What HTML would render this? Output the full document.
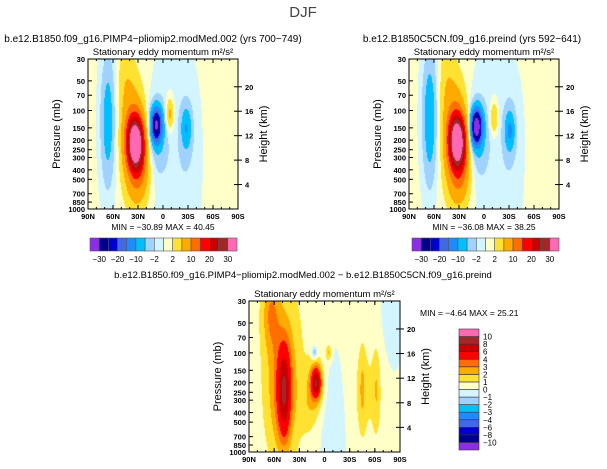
<!DOCTYPE html>
<html><head><meta charset="utf-8"><style>
body{margin:0;width:607px;height:469px;background:#fff;overflow:hidden;position:relative;font-family:"Liberation Sans",sans-serif}
canvas{position:absolute}
svg{position:absolute;left:0;top:0}
</style></head><body>
<canvas id="c1" width="150" height="150" style="left:88px;top:59px"></canvas>
<canvas id="c2" width="150" height="150" style="left:409px;top:59px"></canvas>
<canvas id="c3" width="151" height="151" style="left:249px;top:301px"></canvas>
<svg id="s" width="607" height="469"></svg>
<script>
// ---- data ----
const colors=["#8c2ee6","#00008c","#0000cd","#4169e1","#1e8cff","#00bfff","#a0d2ff","#d2f5ff","#ffffc8","#ffe132","#ffaa00","#ff6e00","#ff0000","#c80000","#a02828","#ff69b4"];
const levelsTop=[-30,-25,-20,-15,-10,-5,-2,0,2,5,10,15,20,25,30];
const levelsDiff=[-10,-8,-6,-4,-3,-2,-1,0,1,2,3,4,6,8,10];
const pTicks=[30,50,70,100,150,200,250,300,400,500,700,850,1000];
const kmTicks=[4,8,12,16,20];
const latTicks=["90N","60N","30N","0","30S","60S","90S"];
// blobs: lat, pressure(mb), amplitude, lat width (deg), log10p width
const leftLat=[33,36,30,66,8,6,-8,-28,-28,-12,45,28];
const leftP=[210,170,500,130,140,180,110,150,170,500,50,350];
const leftAmp=[34,8,5,-8,-28,-5,7,-7,-3,-1.4,2.5,4];
const leftSx=[7,10,10,6,4.5,8,3.5,4,7,22,7,8];
const leftSy=[0.18,0.38,0.25,0.45,0.12,0.25,0.12,0.13,0.3,1.0,0.3,0.2];
const rightLat=[32,35,30,65,9,7,-12,-31,-31,-12,45,28];
const rightP=[200,170,500,120,145,180,120,160,170,500,50,350];
const rightAmp=[32,9,5,-9,-34,-6,6,-8,-3,-1.4,2.5,4];
const rightSx=[7,10,10,6,4.5,8,3.5,4,7,22,7,8];
const rightSy=[0.18,0.38,0.25,0.45,0.12,0.25,0.12,0.13,0.3,1.0,0.3,0.2];
const diffLat=[48,50,64,50,10,10,12,-5,-45,-62,-50,-10,-80,18];
const diffP=[250,220,40,120,200,200,100,100,230,230,250,500,50,350];
const diffAmp=[5,2.5,2,1.2,6,2,-2.5,2,1.2,1.2,1,-0.8,-0.6,1];
const diffSx=[5,11,7,22,4,7,2.5,2.5,3,3,15,12,10,8];
const diffSy=[0.3,0.45,0.25,0.9,0.1,0.2,0.05,0.06,0.3,0.3,0.4,0.5,0.4,0.2];
const L0=Math.log10(30),L1=Math.log10(1000);
function field(lat,p,A,base){let v=base;const lp=Math.log10(p);
 for(let i=0;i<A[0].length;i++){const dx=(lat-A[0][i])/A[3][i],dy=(lp-Math.log10(A[1][i]))/A[4][i];v+=A[2][i]*Math.exp(-0.5*(dx*dx+dy*dy));}return v;}
function colorFor(v,lev){let k=0;while(k<lev.length&&v>=lev[k])k++;return colors[k];}
function paint(id,A,lev,base){const c=document.getElementById(id),ctx=c.getContext('2d'),W=c.width,H=c.height;
 for(let y=0;y<H;y++){const p=Math.pow(10,L0+(y+0.5)/H*(L1-L0));for(let x=0;x<W;x++){const lat=90-(x+0.5)/W*180;
 ctx.fillStyle=colorFor(field(lat,p,A,base),lev);ctx.fillRect(x,y,1,1);}}}
paint('c1',[leftLat,leftP,leftAmp,leftSx,leftSy],levelsTop,0.4);
paint('c2',[rightLat,rightP,rightAmp,rightSx,rightSy],levelsTop,0.4);
paint('c3',[diffLat,diffP,diffAmp,diffSx,diffSy],levelsDiff,0.2);
// ---- svg ----
const S=document.getElementById('s'),NS="http://www.w3.org/2000/svg";
function el(t,a,txt){const e=document.createElementNS(NS,t);for(const k in a)e.setAttribute(k,a[k]);if(txt!==undefined)e.textContent=txt;S.appendChild(e);return e;}
function txt(x,y,s,size,anchor,name,extra){const e=el('text',Object.assign({x:x,y:y,'font-size':size,'text-anchor':anchor||'middle',fill:'#000'},extra||{}),s);
 
 return e;}
function axes(ox,oy,w,h,tag){
 const r=el('rect',{x:ox,y:oy,width:w,height:h,fill:'none',stroke:'#000','stroke-width':1});
 
 
 pTicks.forEach(p=>{const y=oy+(Math.log10(p)-L0)/(L1-L0)*h;
  el('line',{x1:ox,x2:ox+4,y1:y,y2:y,stroke:'#000'});
  txt(ox-3,y+3,String(p),7.5,'end',tag+'-pressure-tick',{'font-weight':'bold'});});
 kmTicks.forEach(k=>{const p=1000*Math.exp(-k/7);const y=oy+(Math.log10(p)-L0)/(L1-L0)*h;
  el('line',{x1:ox+w-4,x2:ox+w+4,y1:y,y2:y,stroke:'#000'});
  txt(ox+w+7,y+3,String(k),7.5,'start',tag+'-height-tick',{'font-weight':'bold'});});
 latTicks.forEach((l,i)=>{const x=ox+i*w/6;el('line',{x1:x,x2:x,y1:oy+h,y2:oy+h-4,stroke:'#000'});el('line',{x1:x,x2:x,y1:oy,y2:oy+4,stroke:'#000'});
  txt(x,oy+h+10,l,7.5,'middle',tag+'-lat-tick',{'font-weight':'bold'});});
 for(let i=0;i<18;i++){const x=ox+i*w/18;el('line',{x1:x,x2:x,y1:oy+h,y2:oy+h-2,stroke:'#000'});el('line',{x1:x,x2:x,y1:oy,y2:oy+2,stroke:'#000'});}
 txt(0,0,'Pressure (mb)',11,'middle',tag+'-y-axis-title',{transform:`translate(${ox-28},${oy+h/2}) rotate(-90)`});
 txt(0,0,'Height (km)',11,'middle',tag+'-y2-axis-title',{transform:`translate(${ox+w+29},${oy+h/2}) rotate(-90)`});
 txt(ox+w/2,oy-4,'Stationary eddy momentum  m²/s²',9.5,'middle',tag+'-subtitle');
}
axes(88,59,150,150,'left');axes(409,59,150,150,'right');axes(249,301,151,151,'diff');
txt(303,17,'DJF',15,'middle','main-title',{fill:'#444'});
txt(153,42,'b.e12.B1850.f09_g16.PIMP4−pliomip2.modMed.002 (yrs 700−749)',10,'middle','left-panel-title');
txt(472,42,'b.e12.B1850C5CN.f09_g16.preind (yrs 592−641)',10,'middle','right-panel-title');
txt(303,278,'b.e12.B1850.f09_g16.PIMP4−pliomip2.modMed.002 − b.e12.B1850C5CN.f09_g16.preind',9.5,'middle','diff-panel-title');
txt(163,230,'MIN =  −30.89   MAX =  40.45',8.5,'middle','left-minmax');
txt(484,230,'MIN =  −36.08   MAX =  38.25',8.5,'middle','right-minmax');
txt(420,316,'MIN =  −4.64   MAX =  25.21',8.5,'start','diff-minmax');
function hbar(ox,oy,w,h,tag){const bw=w/16;colors.forEach((c,i)=>{const r=el('rect',{x:ox+i*bw,y:oy,width:bw,height:h,fill:c,stroke:'#555','stroke-width':0.6});
 
 });
 levelsTop.forEach((v,i)=>{if(i%2==0)txt(ox+(i+1)*bw,oy+h+11,String(v).replace('-','−'),8,'middle',tag+'-colorbar-label');});}
hbar(90,238,147,13,'left');hbar(412,238,147,13,'right');
const vx=459,vy=329,vw=20,vh=121,bh=vh/16;
colors.forEach((c,i)=>{const r=el('rect',{x:vx,y:vy+vh-(i+1)*bh,width:vw,height:bh,fill:c,stroke:'#333','stroke-width':0.6});
 
 });
levelsDiff.forEach((v,i)=>{txt(vx+vw+4,vy+vh-(i+1)*bh+3,String(v).replace('-','−'),8,'start','diff-colorbar-label');});
</script>
</body></html>
